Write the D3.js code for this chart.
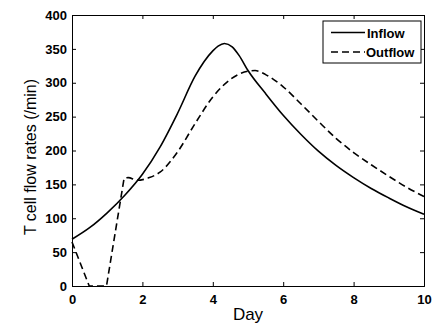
<!DOCTYPE html>
<html><head><meta charset="utf-8">
<script src="https://cdn.jsdelivr.net/npm/d3@7"></script>
<style>body{margin:0;background:#fff}svg{display:block}text{font-family:"Liberation Sans",Arial,sans-serif;fill:#000}</style>
</head><body>
<script>
const inflowDays   = [0,0.5,1,1.5,2,2.5,3,3.5,4,4.15,4.33,4.55,4.75,5,5.5,6,6.5,7,7.5,8,8.5,9,9.5,10];
const inflowValues = [69,86,108,134,165,205,255,310,347,354,358,353,340,318,284,252,224,199,178,160,144,130,117,106];
const outflowDays   = [0,0.49,0.98,1.48,1.6,1.85,2.2,2.5,3,3.5,4,4.5,5,5.2,5.5,6,6.5,7,7.5,8,8.5,9,9.5,10];
const outflowValues = [65,0,0,159,160,156,160,168,198,240,279,305,317,318,312,294,269,243,218,197,179,162,146,132];
const xTicks = [0,2,4,6,8,10];
const yTicks = [0,50,100,150,200,250,300,350,400];
const seriesNames = ["Inflow","Outflow"];

const W=436,H=327, L=72,R=424,T=15,B=286;
const svg=d3.select("body").append("svg").attr("width",W).attr("height",H);
const x=d3.scaleLinear().domain([0,10]).range([L,R]);
const y=d3.scaleLinear().domain([0,400]).range([B,T]);

const g=svg.append("g");
const ax=g.append("g").attr("transform",`translate(0,${B})`).call(d3.axisBottom(x).tickValues(xTicks).tickSize(-4).tickPadding(8));
const ay=g.append("g").attr("transform",`translate(${L},0)`).call(d3.axisLeft(y).tickValues(yTicks).tickSize(-4).tickPadding(5));
const at=g.append("g").attr("transform",`translate(0,${T})`).call(d3.axisTop(x).tickValues(xTicks).tickSize(-4).tickFormat(""));
const ar=g.append("g").attr("transform",`translate(${R},0)`).call(d3.axisRight(y).tickValues(yTicks).tickSize(-4).tickFormat(""));
[ax,ay,at,ar].forEach(a=>{a.selectAll("path").attr("stroke","#000").attr("stroke-width",1);a.selectAll("line").attr("stroke","#000");a.selectAll("text").style("font-size","13px").attr("font-weight","bold").attr("fill","#000");});
ax.selectAll("text").attr("dy","0.75em");

const inflow=inflowDays.map((d,i)=>[d,inflowValues[i]]);
const outflow=outflowDays.map((d,i)=>[d,outflowValues[i]]);
const smooth=d3.line().x(d=>x(d[0])).y(d=>y(d[1])).curve(d3.curveMonotoneX);
const straight=d3.line().x(d=>x(d[0])).y(d=>y(d[1]));
g.append("path").datum(inflow).attr("d",smooth).attr("fill","none").attr("stroke","#000").attr("stroke-width",1.6);
const od = straight(outflow.slice(0,4)) + smooth(outflow.slice(3)).replace(/^M/,"L");
g.append("path").attr("d",od).attr("fill","none").attr("stroke","#000").attr("stroke-width",1.6).attr("stroke-dasharray","7,4");

svg.append("text").attr("x",(L+R)/2).attr("y",320).attr("text-anchor","middle").style("font-size","17px").text("Day");
svg.append("text").attr("transform",`translate(36,157) rotate(-90)`).attr("text-anchor","middle").style("font-size","16px").text("T cell flow rates (/min)");

const lg=svg.append("g");
lg.append("rect").attr("x",323).attr("y",21).attr("width",98).attr("height",42).attr("fill","#fff").attr("stroke","#000").attr("stroke-width",1);
lg.append("line").attr("x1",331).attr("x2",365).attr("y1",32.5).attr("y2",32.5).attr("stroke","#000").attr("stroke-width",1.6);
lg.append("line").attr("x1",331).attr("x2",365).attr("y1",52).attr("y2",52).attr("stroke","#000").attr("stroke-width",1.6).attr("stroke-dasharray","7,4");
lg.append("text").attr("x",367).attr("y",37.5).style("font-size","13px").attr("font-weight","bold").text(seriesNames[0]);
lg.append("text").attr("x",366).attr("y",57).style("font-size","13px").attr("font-weight","bold").text(seriesNames[1]);
</script>
</body></html>
